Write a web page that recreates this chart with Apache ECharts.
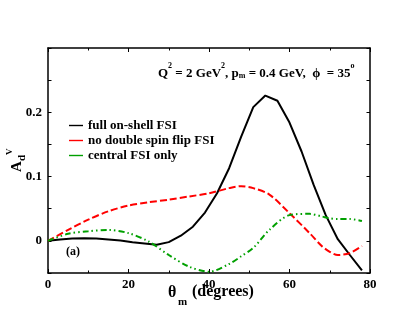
<!DOCTYPE html>
<html>
<head>
<meta charset="utf-8">
<script src="https://cdn.jsdelivr.net/npm/echarts@6/dist/echarts.min.js"></script>
<style>
  html, body { margin: 0; padding: 0; background: #fff; }
  #chart { width: 417px; height: 322px; }
</style>
</head>
<body>
<div id="chart"></div>
<script>
// theta_m (degrees)
const thetaFull = [0, 3, 6, 9, 12, 15, 18, 21, 24, 27, 30, 33, 36, 39, 42, 45, 48, 51, 54, 57, 60, 63, 66, 69, 72, 75, 78];
const fullFSI = [0, 0.002, 0.0035, 0.004, 0.0035, 0.002, 0.0005, -0.002, -0.004, -0.006, -0.002, 0.008, 0.022, 0.044, 0.074, 0.113, 0.162, 0.208, 0.226, 0.218, 0.184, 0.139, 0.087, 0.040, 0.0026, -0.022, -0.046];

const thetaOther = [0, 5, 10, 15, 20, 25, 30, 35, 40, 45, 48, 51, 55, 60, 65, 68, 70, 72, 75, 78];
const noDoubleFlip = [0, 0.017, 0.033, 0.046, 0.055, 0.060, 0.064, 0.069, 0.074, 0.082, 0.085, 0.082, 0.072, 0.043, 0.012, -0.008, -0.017, -0.022, -0.019, -0.008];
const centralOnly = [0, 0.011, 0.015, 0.017, 0.012, -0.001, -0.022, -0.040, -0.048, -0.036, -0.024, -0.011, 0.017, 0.040, 0.042, 0.038, 0.035, 0.034, 0.034, 0.031];

const seriesNames = ['full on-shell FSI', 'no double spin flip FSI', 'central FSI only'];
const yTickLabels = ['0', '0.1', '0.2'];

const pair = (xs, ys) => xs.map((x, i) => [x, ys[i]]);
const font = 'Liberation Serif';

const chart = echarts.init(document.getElementById('chart'));

const axisLine = { show: true, onZero: false, lineStyle: { color: '#000', width: 1.5 } };

const option = {
  animation: false,
  backgroundColor: '#fff',
  grid: { left: 48, right: 47, top: 48, bottom: 49 },
  legend: {
    left: 64, top: 114, orient: 'vertical', itemGap: 2,
    itemWidth: 14, itemHeight: 12,
    textStyle: { fontFamily: font, fontWeight: 'bold', fontSize: 13, color: '#000' },
    data: seriesNames.map(n => ({ name: n, icon: 'path://M0,5 L20,5 L20,7 L0,7 Z' }))
  },
  xAxis: [
    {
      type: 'value', min: 0, max: 80, interval: 20, position: 'bottom',
      axisLine: axisLine,
      axisTick: { inside: true, length: 4, lineStyle: { color: '#000' } },
      minorTick: { show: true, splitNumber: 2, length: 2.5, lineStyle: { color: '#000' } },
      splitLine: { show: false },
      axisLabel: { color: '#000', fontFamily: font, fontWeight: 'bold', fontSize: 13, margin: 5 }
    },
    {
      type: 'value', min: 0, max: 80, interval: 20, position: 'top',
      axisLine: axisLine,
      axisTick: { inside: true, length: 4, lineStyle: { color: '#000' } },
      minorTick: { show: true, splitNumber: 2, length: 2.5, lineStyle: { color: '#000' } },
      splitLine: { show: false },
      axisLabel: { show: false }
    }
  ],
  yAxis: [
    {
      type: 'value', min: -0.05, max: 0.3, interval: 0.05, position: 'left',
      axisLine: axisLine,
      axisTick: { inside: true, length: 3.5, lineStyle: { color: '#000' } },
      splitLine: { show: false },
      axisLabel: {
        color: '#000', fontFamily: font, fontWeight: 'bold', fontSize: 13, margin: 6,
        formatter: v => {
          const k = Math.round(v * 100);
          return (k >= 0 && k <= 20 && k % 10 === 0) ? yTickLabels[k / 10] : '';
        }
      }
    },
    {
      type: 'value', min: -0.05, max: 0.3, interval: 0.05, position: 'right',
      axisLine: axisLine,
      axisTick: { inside: true, length: 3.5, lineStyle: { color: '#000' } },
      splitLine: { show: false },
      axisLabel: { show: false }
    }
  ],
  series: [
    {
      name: seriesNames[0], type: 'line', data: pair(thetaFull, fullFSI),
      symbol: 'none', color: '#000', lineStyle: { color: '#000', width: 2 }
    },
    {
      name: seriesNames[1], type: 'line', data: pair(thetaOther, noDoubleFlip),
      symbol: 'none', smooth: 0.3, color: '#ff0000', lineStyle: { color: '#ff0000', width: 2, type: [7, 3] }
    },
    {
      name: seriesNames[2], type: 'line', data: pair(thetaOther, centralOnly),
      symbol: 'none', smooth: 0.3, color: '#00a000', lineStyle: { color: '#00a000', width: 2, type: [6, 3, 1.5, 3, 1.5, 3] }
    }
  ],
  graphic: [
    {
      type: 'text', left: 158, top: 62,
      style: {
        text: '{b|Q}{s|2}{b| = 2 GeV}{s|2}{b|, p}{d|m}{b| = 0.4 GeV,  \u03d5  = 35}{s|o}',
        rich: {
          b: { fontFamily: font, fontWeight: 'bold', fontSize: 13, fill: '#000', verticalAlign: 'bottom', lineHeight: 18 },
          s: { fontFamily: font, fontWeight: 'bold', fontSize: 8, fill: '#000', verticalAlign: 'top', lineHeight: 18, padding: [0, 0, 8, 0] },
          d: { fontFamily: font, fontWeight: 'bold', fontSize: 8, fill: '#000', verticalAlign: 'bottom', lineHeight: 18, padding: [6, 0, 0, 0] }
        }
      }
    },
    {
      type: 'text', left: 66, top: 246,
      style: { text: '(a)', font: 'bold 12px "Liberation Serif"', fill: '#000' }
    },
    // x axis title
    {
      type: 'text', left: 168, top: 285,
      style: { text: '\u03b8', font: 'bold 16px "Liberation Serif"', fill: '#000' }
    },
    {
      type: 'text', left: 178, top: 297,
      style: { text: 'm', font: 'bold 11px "Liberation Serif"', fill: '#000' }
    },
    {
      type: 'text', left: 192, top: 284,
      style: { text: '(degrees)', font: 'bold 16px "Liberation Serif"', fill: '#000' }
    },
    // y axis title A_d^V, rotated
    {
      type: 'text', x: 10, y: 172, rotation: Math.PI / 2,
      style: { text: 'A', font: 'bold 15px "Liberation Serif"', fill: '#000' }
    },
    {
      type: 'text', x: 17, y: 161, rotation: Math.PI / 2,
      style: { text: 'd', font: 'bold 11px "Liberation Serif"', fill: '#000' }
    },
    {
      type: 'text', x: 5, y: 155, rotation: Math.PI / 2,
      style: { text: 'V', font: 'bold 9px "Liberation Serif"', fill: '#000' }
    }
  ]
};

chart.setOption(option);
</script>
</body>
</html>
